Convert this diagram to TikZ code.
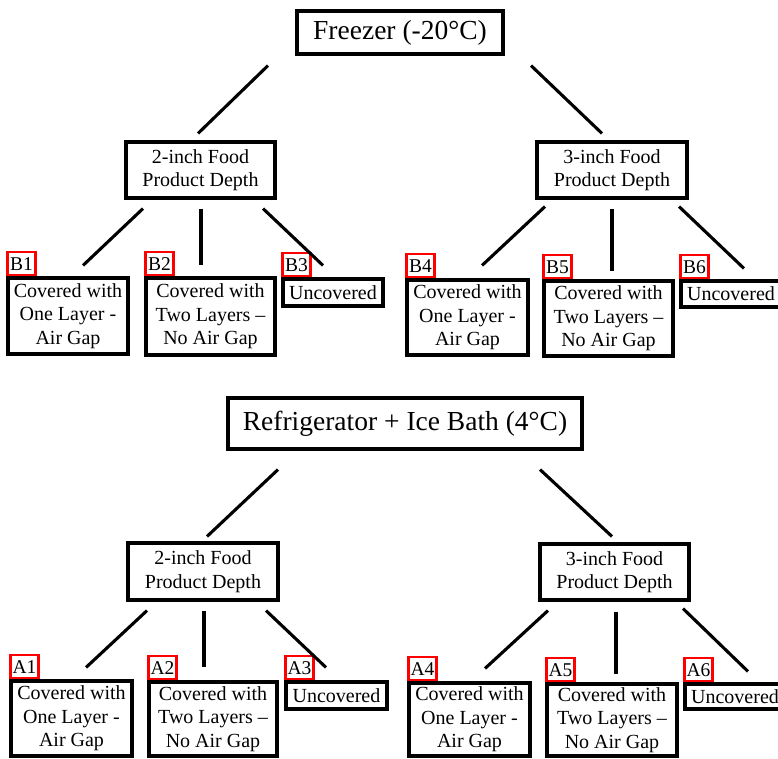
\documentclass[tikz,border=0pt]{standalone}
\usepackage{fontspec}
\setmainfont{Liberation Serif}
\usepackage{xcolor}
\usepackage{tikz}
\usetikzlibrary{calc}

\begin{document}
\begin{tikzpicture}[x=1pt, y=-1pt,
    title/.style={draw, line width=3.1pt, inner sep=0pt, font=\fontsize{27.5}{30}\selectfont},
    box/.style={draw, line width=3.1pt, inner sep=0pt, align=center, font=\fontsize{20}{23.5}\selectfont},
    tag/.style={draw=red, line width=2.2pt, inner sep=0pt, anchor=south west, minimum width=28pt, minimum height=23pt, font=\fontsize{19.5}{20}\selectfont},
    link/.style={line width=3.1pt}]
            \useasboundingbox (0,0) rectangle (778,758);
            \clip (0,0) rectangle (778,758);

            % freezer tree
            \node[title, minimum width=206pt, minimum height=43pt] (fz) at (400,32.5) {Freezer (-20°C)};
            \node[box, minimum width=149pt, minimum height=56pt] (fzd2) at (200.5,170) {2-inch Food\\Product Depth};
            \node[box, minimum width=150pt, minimum height=56pt] (fzd3) at (612,170) {3-inch Food\\Product Depth};

            \node[box, minimum width=120pt, minimum height=76pt] (b1) at (68,316) {Covered with\\One Layer -\\Air Gap};
            \node[box, minimum width=129pt, minimum height=77pt] (b2) at (210.5,316.5) {Covered with\\Two Layers –\\No Air Gap};
            \node[box, minimum width=100pt, minimum height=27pt] (b3) at (333,292.5) {Uncovered};
            \node[box, minimum width=121pt, minimum height=75pt] (b4) at (467.5,317.5) {Covered with\\One Layer -\\Air Gap};
            \node[box, minimum width=129pt, minimum height=75pt] (b5) at (608.5,318.5) {Covered with\\Two Layers –\\No Air Gap};
            \node[box, minimum width=100pt, minimum height=26pt] (b6) at (731,294) {Uncovered};

            \node[tag] (b1tag) at (b1.north west) {B1};
            \node[tag] (b2tag) at (b2.north west) {B2};
            \node[tag] (b3tag) at (b3.north west) {B3};
            \node[tag] (b4tag) at (b4.north west) {B4};
            \node[tag] (b5tag) at (b5.north west) {B5};
            \node[tag] (b6tag) at (b6.north west) {B6};

            \draw[link] ($(fz.south)+(-132,10)$) -- ($(fzd2.north)+(-2.5,-7)$);
            \draw[link] ($(fz.south)+(131,10)$) -- ($(fzd3.north)+(-10,-7)$);
            \draw[link] ($(fzd2.south)+(-57.5,9)$) -- ($(b1.north)+(15,-11)$);
            \draw[link] ($(fzd2.south)+(0.5,9)$) -- ($(b2.north)+(-9.5,-11)$);
            \draw[link] ($(fzd2.south)+(62.5,9)$) -- ($(b3.north)+(-10,-12)$);
            \draw[link] ($(fzd3.south)+(-67,7)$) -- ($(b4.north)+(14.5,-13)$);
            \draw[link] ($(fzd3.south)+(0,9)$) -- ($(b5.north)+(3.5,-8)$);
            \draw[link] ($(fzd3.south)+(67,7)$) -- ($(b6.north)+(13,-11)$);

            % refrigerator tree
            \node[title, minimum width=354pt, minimum height=51pt] (rf) at (405,423.5) {Refrigerator + Ice Bath (4°C)};
            \node[box, minimum width=150pt, minimum height=57pt] (rfd2) at (203,571.5) {2-inch Food\\Product Depth};
            \node[box, minimum width=149pt, minimum height=56pt] (rfd3) at (614.5,572) {3-inch Food\\Product Depth};

            \node[box, minimum width=121pt, minimum height=75pt] (a1) at (71.5,718.5) {Covered with\\One Layer -\\Air Gap};
            \node[box, minimum width=128pt, minimum height=74pt] (a2) at (213,719) {Covered with\\Two Layers –\\No Air Gap};
            \node[box, minimum width=101pt, minimum height=27pt] (a3) at (336.5,695.5) {Uncovered};
            \node[box, minimum width=121pt, minimum height=73pt] (a4) at (469.5,719.5) {Covered with\\One Layer -\\Air Gap};
            \node[box, minimum width=130pt, minimum height=72pt] (a5) at (612,720) {Covered with\\Two Layers –\\No Air Gap};
            \node[box, minimum width=100pt, minimum height=25pt] (a6) at (735,696.5) {Uncovered};

            \node[tag] (a1tag) at (a1.north west) {A1};
            \node[tag] (a2tag) at (a2.north west) {A2};
            \node[tag] (a3tag) at (a3.north west) {A3};
            \node[tag] (a4tag) at (a4.north west) {A4};
            \node[tag] (a5tag) at (a5.north west) {A5};
            \node[tag] (a6tag) at (a6.north west) {A6};

            \draw[link] ($(rf.south)+(-127,19)$) -- ($(rfd2.north)+(4,-5)$);
            \draw[link] ($(rf.south)+(135,19)$) -- ($(rfd3.north)+(-2.5,-6)$);
            \draw[link] ($(rfd2.south)+(-56,9)$) -- ($(a1.north)+(14.5,-12)$);
            \draw[link] ($(rfd2.south)+(1,9)$) -- ($(a2.north)+(-9,-13)$);
            \draw[link] ($(rfd2.south)+(63,9)$) -- ($(a3.north)+(-10.5,-13)$);
            \draw[link] ($(rfd3.south)+(-66.5,9)$) -- ($(a4.north)+(15.5,-13)$);
            \draw[link] ($(rfd3.south)+(1.5,10)$) -- ($(a5.north)+(4,-8)$);
            \draw[link] ($(rfd3.south)+(68.5,7)$) -- ($(a6.north)+(13,-11)$);
        \end{tikzpicture}
\end{document}
